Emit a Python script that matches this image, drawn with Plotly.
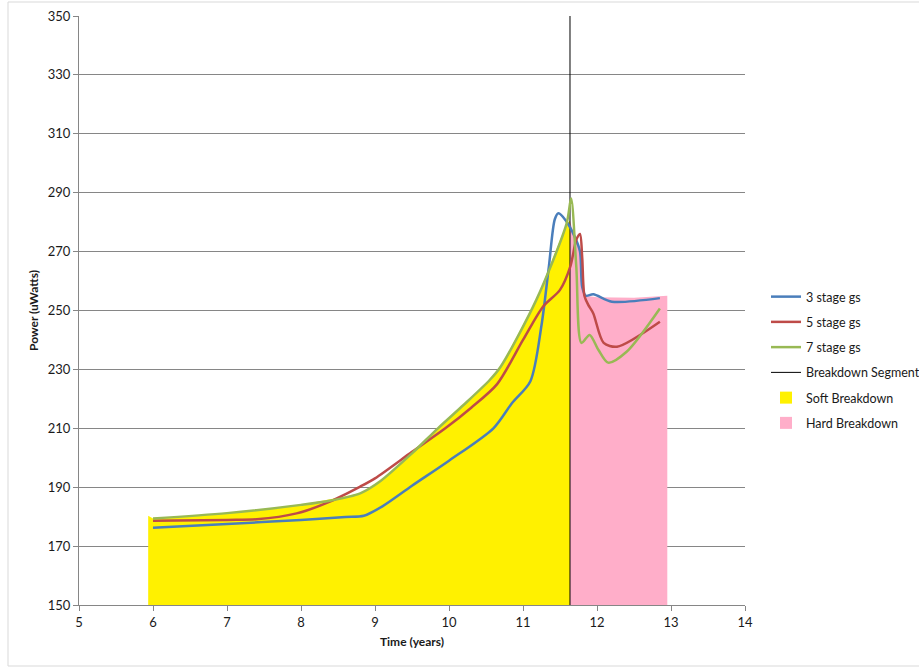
import plotly.graph_objects as go

# ---------------- data ----------------
x_3 = [6.0, 7.0, 8.0, 8.6, 8.85, 9.1, 9.5, 10.0, 10.6, 10.85, 11.1, 11.25, 11.35, 11.43, 11.48,
       11.58, 11.7, 11.77, 11.8, 11.85, 11.95, 12.2, 12.85]
y_3 = [176.2, 177.5, 178.9, 179.9, 180.3, 183.5, 190.5, 199.0, 210.0, 218.5, 226.0, 245.0, 265.0,
       281.0, 283.0, 280.5, 275.0, 270.0, 258.0, 255.0, 255.5, 253.0, 254.2]

x_5 = [6.0, 7.0, 7.4, 7.94, 8.39, 8.8, 9.0, 9.5, 9.95, 10.3, 10.65, 11.0, 11.27, 11.5, 11.64,
       11.72, 11.77, 11.8, 11.83, 11.88, 11.95, 12.09, 12.27, 12.85]
y_5 = [178.6, 178.9, 179.1, 181.1, 185.1, 190.2, 193.0, 202.0, 210.0, 217.0, 225.0, 240.0, 251.3,
       257.0, 265.0, 274.0, 276.0, 268.0, 255.0, 252.0, 249.0, 239.0, 237.7, 246.2]

x_7 = [6.0, 7.0, 8.0, 8.39, 8.8, 9.07, 9.5, 9.85, 10.2, 10.55, 10.7, 11.18, 11.59, 11.65,
       11.72, 11.79, 11.9, 12.02, 12.15, 12.4, 12.85]
y_7 = [179.4, 181.2, 184.0, 185.4, 187.9, 192.0, 201.5, 210.0, 218.0, 226.4, 231.0, 253.6,
       279.6, 288.0, 265.0, 239.0, 241.7, 236.6, 232.3, 236.0, 250.7]

x_break = [11.635, 11.635]
y_break = [150, 350]

x_soft = [5.935, 6.0, 7.0, 8.0, 8.8, 9.07, 9.5, 9.85, 10.2, 10.55, 10.7, 11.18, 11.59, 11.635]
y_soft = [180.3, 179.4, 181.2, 184.0, 187.9, 192.0, 201.5, 210.0, 218.0, 226.4, 231.0, 253.6, 279.6, 280.5]

x_hard = [11.635, 11.7, 11.77, 11.8, 11.85, 12.0, 12.5, 12.9, 12.95]
y_hard = [280.5, 275.0, 270.0, 258.0, 255.0, 254.5, 254.3, 255.0, 255.0]

x_ticks = [5, 6, 7, 8, 9, 10, 11, 12, 13, 14]
y_ticks = [150, 170, 190, 210, 230, 250, 270, 290, 310, 330, 350]

FONT = "Lato"
YELLOW = "#FFF100"
PINK = "#FFAEC9"
fig = go.Figure()

fig.add_trace(go.Scatter(x=x_soft, y=y_soft, mode="lines", line=dict(width=0, color=YELLOW),
                         fill="tozeroy", fillcolor=YELLOW, showlegend=False, hoverinfo="skip"))
fig.add_trace(go.Scatter(x=x_hard, y=y_hard, mode="lines", line=dict(width=0, color=PINK),
                         fill="tozeroy", fillcolor=PINK, showlegend=False, hoverinfo="skip"))
fig.add_trace(go.Scatter(x=x_break, y=y_break, mode="lines", line=dict(width=1, color="#000000"),
                         name="Breakdown Segment", legendgroup="d", legendrank=4))
fig.add_trace(go.Scatter(x=x_3, y=y_3, mode="lines", line=dict(width=2.5, color="#4A7EBB", shape="spline", smoothing=0.8),
                         name="3 stage gs", legendgroup="a", legendrank=1))
fig.add_trace(go.Scatter(x=x_5, y=y_5, mode="lines", line=dict(width=2.5, color="#BE4B48", shape="spline", smoothing=0.8),
                         name="5 stage gs", legendgroup="b", legendrank=2))
fig.add_trace(go.Scatter(x=x_7, y=y_7, mode="lines", line=dict(width=2.5, color="#98B954", shape="spline", smoothing=0.8),
                         name="7 stage gs", legendgroup="c", legendrank=3))
# legend entries for the two areas (square swatches)
fig.add_trace(go.Scatter(x=[None], y=[None], mode="markers",
                         marker=dict(symbol="square", size=12, color=YELLOW),
                         name="Soft Breakdown", legendgroup="e", legendrank=5))
fig.add_trace(go.Scatter(x=[None], y=[None], mode="markers",
                         marker=dict(symbol="square", size=12, color=PINK),
                         name="Hard Breakdown", legendgroup="f", legendrank=6))

W, H = 919, 668
L, R, T, B = 79, 174, 16, 63
pw, ph = W - L - R, H - T - B

fig.update_layout(
    width=W, height=H,
    margin=dict(l=L, r=R, t=T, b=B, pad=0, autoexpand=False),
    paper_bgcolor="white", plot_bgcolor="white",
    font=dict(family=FONT, size=13, color="#1a1a1a"),
    showlegend=True,
    legend=dict(x=(766 - L) / pw, y=1 - 266 / ph, xanchor="left", yanchor="top",
                font=dict(family=FONT, size=12.5, color="#1a1a1a"),
                tracegroupgap=6, itemwidth=30, bgcolor="rgba(0,0,0,0)"),
    xaxis=dict(range=[5, 14], tickvals=x_ticks, ticktext=[str(v) for v in x_ticks],
               showgrid=False, zeroline=False, showline=True, linecolor="#868686", linewidth=1,
               ticks="outside", ticklen=5, tickcolor="#868686", automargin=False,
               tickfont=dict(family=FONT, size=13),
               title=dict(text="<b>Time (years)</b>", font=dict(family=FONT, size=12), standoff=9)),
    yaxis=dict(range=[150, 350], tickvals=y_ticks, ticktext=[str(v) for v in y_ticks],
               showgrid=True, gridcolor="#868686", gridwidth=1, zeroline=False,
               showline=True, linecolor="#868686", linewidth=1,
               ticks="outside", ticklen=5, tickcolor="#868686", automargin=False,
               tickfont=dict(family=FONT, size=13),
               title=dict(text="<b>Power (uWatts)</b>", font=dict(family=FONT, size=12), standoff=6)),
    shapes=[dict(type="rect", xref="paper", yref="paper",
                 x0=(8 - L) / pw, x1=(925 - L) / pw, y0=-(666 - 605) / ph, y1=(605 - 2) / ph,
                 line=dict(color="#D9D9D9", width=1), fillcolor="rgba(0,0,0,0)", layer="below")],
)

fig.write_html("out.html", config={"displayModeBar": False},
               post_script="document.body.style.margin='0';")
